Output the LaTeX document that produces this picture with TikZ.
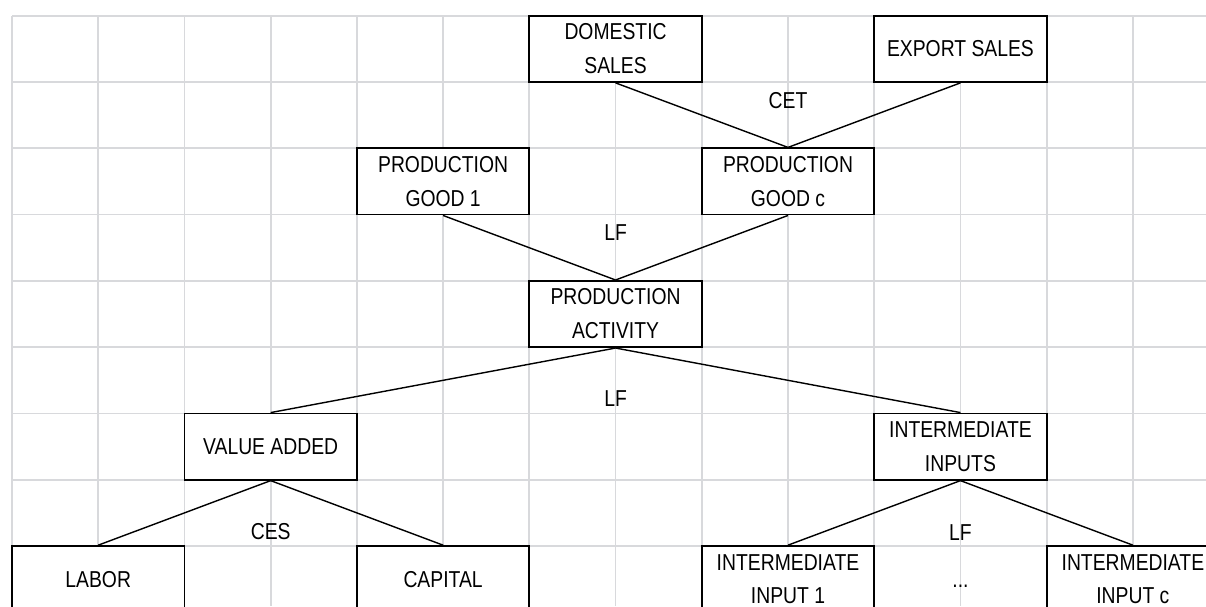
\documentclass[tikz,border=0pt]{standalone}
\usepackage{fontspec}
\setmainfont{Liberation Sans}[FakeStretch=0.84]
\definecolor{cellgray}{RGB}{216,217,220}
\begin{document}
\begin{tikzpicture}[x=1.7244cm,y=-1.3258cm,every node/.style={font=\fontsize{13.1}{19.3}\selectfont},
  gridline/.style={draw=cellgray,line width=1pt},
  box/.style={draw,line width=1pt,fill=white,minimum width=3.4488cm,minimum height=1.3258cm,inner sep=0pt,align=center},
  lbl/.style={anchor=base,inner sep=0pt},
  link/.style={draw,line width=0.8pt}]
\useasboundingbox (-0.1392,-0.2368) rectangle (13.848,8.905);
\clip (-0.1392,-0.2368) rectangle (13.848,8.905);
% sheet cells
\foreach \i in {0,...,13} \draw[gridline] (\i,0) -- (\i,8.905);
\foreach \j in {0,...,8} \draw[gridline] (0,\j) -- (13.848,\j);
\node[box] (dom) at (7,0.5) {DOMESTIC\\SALES}; \node[box] (exp) at (11,0.5) {EXPORT SALES};
\node[box] (good1) at (5,2.5) {PRODUCTION\\GOOD 1}; \node[box] (goodc) at (9,2.5) {PRODUCTION\\GOOD c};
\node[box] (act) at (7,4.5) {PRODUCTION\\ACTIVITY};
\node[box] (va) at (3,6.5) {VALUE ADDED}; \node[box] (ii) at (11,6.5) {INTERMEDIATE\\INPUTS};
\node[box] (labor) at (1,8.5) {LABOR}; \node[box] (cap) at (5,8.5) {CAPITAL};
\node[box] (ii1) at (9,8.5) {INTERMEDIATE\\INPUT 1}; \node[box] (iic) at (13,8.5) {INTERMEDIATE\\INPUT c};
\node[lbl] (dots) at (11,8.62) {...};
\draw[link] (dom.south)--(goodc.north); \draw[link] (exp.south)--(goodc.north);
\draw[link] (good1.south)--(act.north); \draw[link] (goodc.south)--(act.north);
\draw[link] (act.south)--(va.north); \draw[link] (act.south)--(ii.north);
\draw[link] (va.south)--(labor.north); \draw[link] (va.south)--(cap.north);
\draw[link] (ii.south)--(ii1.north); \draw[link] (ii.south)--(iic.north);
% functional forms
\node[lbl] (cet) at (9,1.397) {CET}; \node[lbl] (lf1) at (7,3.384) {LF};
\node[lbl] (lf2) at (7,5.898) {LF}; \node[lbl] (ces) at (3,7.898) {CES}; \node[lbl] (lf3) at (11,7.909) {LF};
\end{tikzpicture}
\end{document}
